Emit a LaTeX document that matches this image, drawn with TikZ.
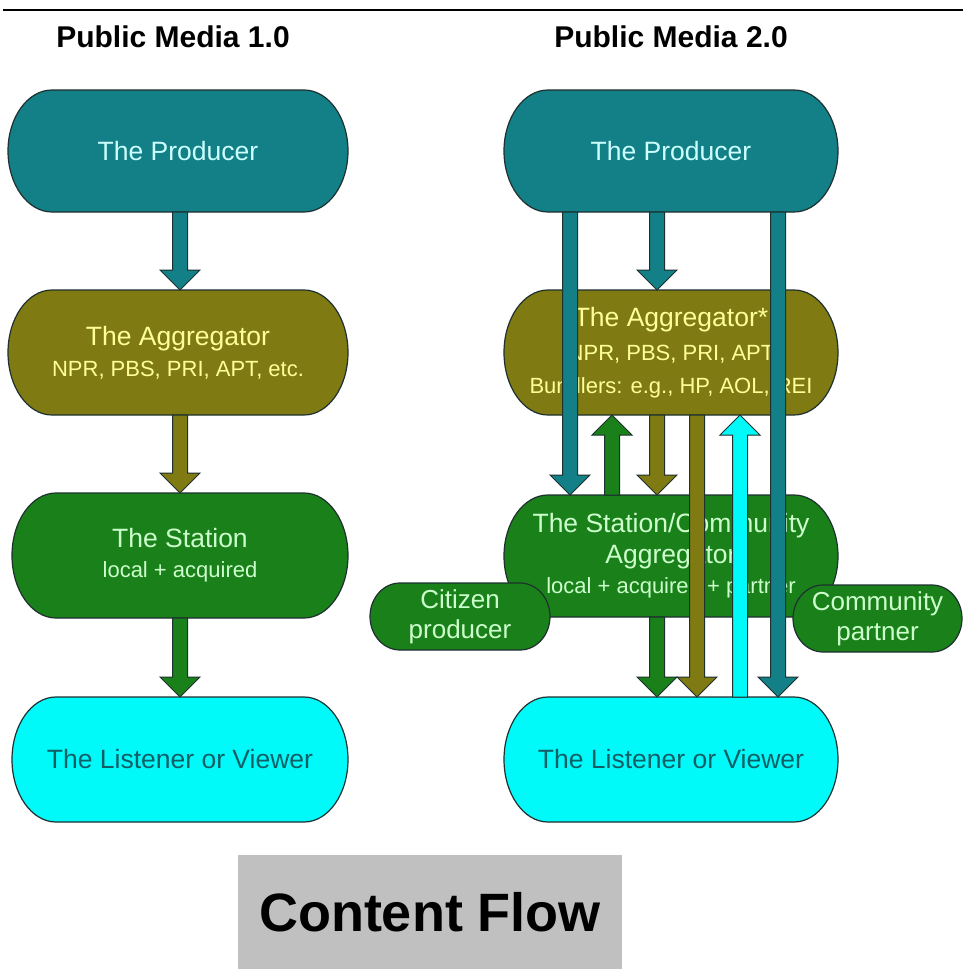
\documentclass[tikz,border=0pt]{standalone}
\usepackage{fontspec}
\setmainfont{Liberation Sans}
\usetikzlibrary{calc}
\definecolor{cteal}{RGB}{18,128,134}
\definecolor{colive}{RGB}{127,123,18}
\definecolor{cgreen}{RGB}{26,128,26}
\definecolor{ccyan}{RGB}{0,250,250}
\definecolor{tteal}{RGB}{204,255,255}
\definecolor{tolive}{RGB}{255,255,153}
\definecolor{tgreen}{RGB}{204,255,204}
\definecolor{tcyan}{RGB}{16,94,102}
\definecolor{edgec}{RGB}{30,48,48}
\definecolor{cgray}{RGB}{192,192,192}

\newcommand\mainf{\fontsize{26.5}{28}\selectfont}
\newcommand\subf{\fontsize{22}{26}\selectfont}
\newcommand\sidef{\fontsize{26}{30}\selectfont}

\tikzset{
  boxline/.style={draw=edgec, line width=1.2pt},
  boxnode/.style={inner sep=0pt, outer sep=0pt, align=center, font=\mainf},
  arrowline/.style={draw=edgec, line width=1pt, line join=miter},
  titlef/.style={font=\fontsize{30}{34}\selectfont\bfseries, inner sep=0pt},
}

% #1 name #2 cx #3 cy #4 half width #5 half height #6 end radius #7 fill #8 text colour #9 text
\newcommand\capsule[9]{%
  \draw[boxline, fill=#7] ({#2-#4+#6},{#3-#5}) -- ({#2+#4-#6},{#3-#5})
    arc[start angle=90, end angle=-90, x radius=#6pt, y radius=#5pt]
    -- ({#2-#4+#6},{#3+#5})
    arc[start angle=270, end angle=90, x radius=#6pt, y radius=#5pt] -- cycle;
  \node[boxnode, text=#8, minimum width={2*#4*1pt}, minimum height={2*#5*1pt}] (#1) at (#2,#3) {#9};
}

% block arrow: #1 fill, #2 start, #3 tip
\newcommand\blockarrow[3]{%
  \draw[arrowline, fill=#1] let \p1=#2, \p2=#3, \n1={sign(\y2-\y1)} in
    (\x1-7.5pt,\y1) -- (\x1-7.5pt,\y2-\n1*20pt) -- (\x1-20pt,\y2-\n1*20pt)
    -- (\x1,\y2) -- (\x1+20pt,\y2-\n1*20pt) -- (\x1+7.5pt,\y2-\n1*20pt)
    -- (\x1+7.5pt,\y1) -- cycle;
}

\begin{document}
\begin{tikzpicture}[x=1pt, y=-1pt]
\useasboundingbox[fill=white] (0,0) rectangle (963,969);

% top rule
\draw[line width=2pt] (3,10) -- (963,10);

% titles
\node[titlef, anchor=base] (t1) at (173,47) {Public Media 1.0};
\node[titlef, anchor=base] (t2) at (671,47) {Public Media 2.0};

% left column
\capsule{P1}{178}{151}{170}{61}{44}{cteal}{tteal}{The Producer}
\capsule{A1}{178}{352.5}{170}{62.5}{44}{colive}{tolive}{The Aggregator\\[3pt] \subf NPR, PBS, PRI, APT, etc.}
\capsule{S1}{180}{555.5}{168}{62.5}{44}{cgreen}{tgreen}{The Station\\[2pt] \subf local + acquired}
\capsule{L1}{180}{759.5}{168}{62.5}{44}{ccyan}{tcyan}{The Listener or Viewer}

% right column
\capsule{P2}{671}{151}{167}{61}{44}{cteal}{tteal}{The Producer}
\capsule{A2}{671}{352.5}{167}{62.5}{44}{colive}{tolive}{The Aggregator*\\[6pt] \subf NPR, PBS, PRI, APT\\[5pt] \subf Bundlers: e.g., HP, AOL, REI}
\capsule{S2}{671}{556}{167}{61}{44}{cgreen}{tgreen}{The Station/Community\\[3pt] Aggregator\\[2pt] \subf local + acquired + partner}
\capsule{L2}{671}{759.5}{167}{62.5}{44}{ccyan}{tcyan}{The Listener or Viewer}

% side boxes
\capsule{C2}{460}{616.5}{90}{33.5}{30}{cgreen}{tgreen}{\sidef Citizen\\[2pt] \sidef producer}
\capsule{M2}{877.5}{618.5}{84.5}{33.5}{30}{cgreen}{tgreen}{\sidef Community\\[2pt] \sidef partner}

% arrow columns
\coordinate (xL) at (180,0);
\coordinate (xa) at (570,0);
\coordinate (xb) at (612,0);
\coordinate (xc) at (657,0);
\coordinate (xd) at (697,0);
\coordinate (xe) at (740,0);
\coordinate (xf) at (778,0);

% left arrows
\blockarrow{cteal}{(xL |- P1.south)}{(xL |- A1.north)}
\blockarrow{colive}{(xL |- A1.south)}{(xL |- S1.north)}
\blockarrow{cgreen}{(xL |- S1.south)}{(xL |- L1.north)}

% right arrows
\blockarrow{cteal}{(xc |- P2.south)}{(xc |- A2.north)}
\blockarrow{cgreen}{(xb |- S2.north)}{(xb |- A2.south)}
\blockarrow{colive}{(xc |- A2.south)}{(xc |- S2.north)}
\blockarrow{cgreen}{(xc |- S2.south)}{(xc |- L2.north)}
\blockarrow{colive}{(xd |- A2.south)}{(xd |- L2.north)}
\blockarrow{ccyan}{(xe |- L2.north)}{(xe |- A2.south)}
\blockarrow{cteal}{(xa |- P2.south)}{(xa |- S2.north)}
\blockarrow{cteal}{(xf |- P2.south)}{(xf |- L2.north)}

% caption
\node[fill=cgray, minimum width=384pt, minimum height=114pt, inner sep=0pt,
      font=\fontsize{54}{60}\selectfont\bfseries] (cf) at (430,912) {Content Flow};
\end{tikzpicture}
\end{document}
